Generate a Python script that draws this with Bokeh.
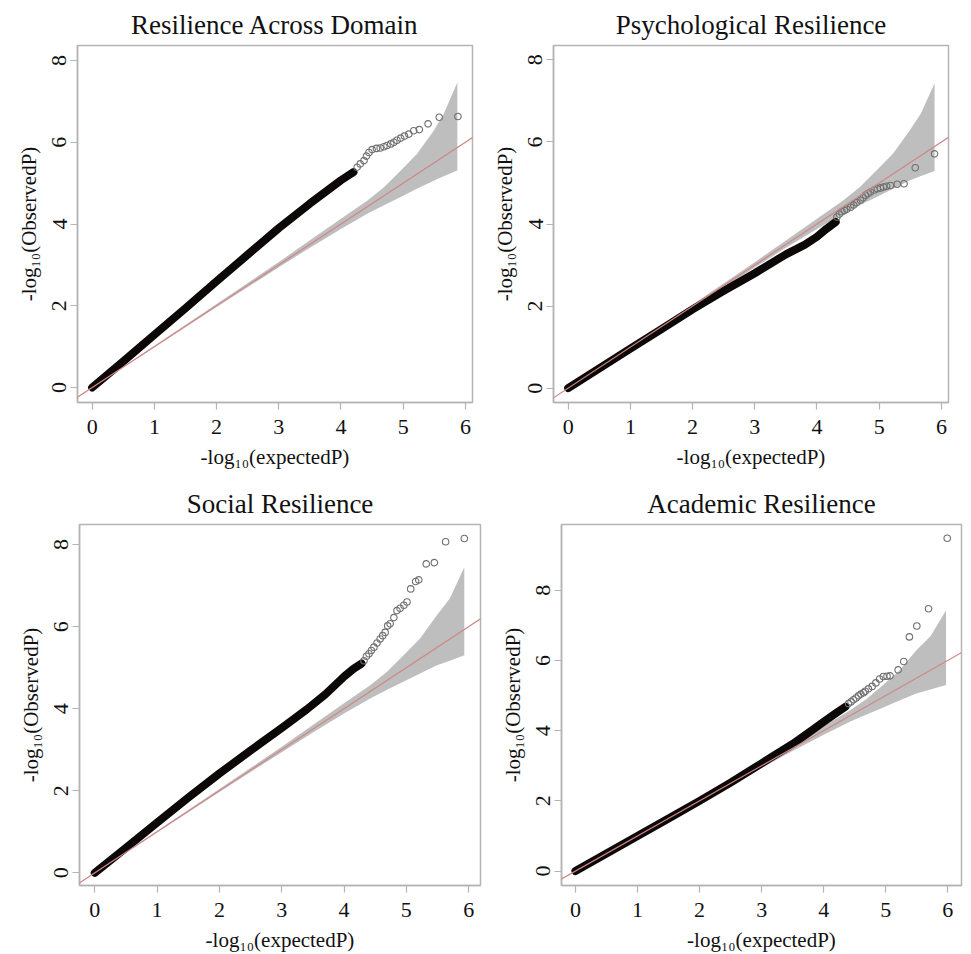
from bokeh.plotting import figure
from bokeh.layouts import column, row
from bokeh.models import FixedTicker, Slope, Range1d
from bokeh.embed import file_html
from bokeh.resources import INLINE

TITLES = ["Resilience Across Domain", "Psychological Resilience",
          "Social Resilience", "Academic Resilience"]
X_LABEL = "-log\u2081\u2080(expectedP)"
Y_LABEL = "-log\u2081\u2080(ObservedP)"
X_TICKS = [0, 1, 2, 3, 4, 5, 6]
Y_TICKS = [0, 2, 4, 6, 8]

# ---- Panel 1: Resilience Across Domain ----
dense1_x = [0, 0.5, 1, 1.5, 2, 2.5, 3, 3.5, 4, 4.2]
dense1_y = [0, 0.64, 1.29, 1.94, 2.6, 3.25, 3.9, 4.5, 5.07, 5.27]
tail1_x = [4.26, 4.31, 4.37, 4.41, 4.45, 4.5, 4.57, 4.63, 4.69, 4.74, 4.8, 4.85,
           4.9, 4.96, 5.02, 5.09, 5.17, 5.26, 5.4, 5.58, 5.88]
tail1_y = [5.39, 5.47, 5.55, 5.66, 5.75, 5.82, 5.85, 5.86, 5.89, 5.92, 5.96, 6.0,
           6.05, 6.1, 6.15, 6.2, 6.28, 6.31, 6.45, 6.61, 6.63]
band1_x = [0, 2, 3, 3.5, 4, 4.42, 4.69, 4.96, 5.22, 5.49, 5.65, 5.87]
band1_hi = [0, 2.04, 3.07, 3.6, 4.13, 4.57, 4.9, 5.31, 5.71, 6.28, 6.69, 7.46]
band1_lo = [0, 1.97, 2.94, 3.42, 3.88, 4.25, 4.46, 4.66, 4.86, 5.06, 5.17, 5.31]

# ---- Panel 2: Psychological Resilience ----
dense2_x = [0, 0.5, 1, 1.5, 2, 2.5, 3, 3.5, 3.8, 4.0, 4.15, 4.3]
dense2_y = [0, 0.48, 0.96, 1.44, 1.92, 2.37, 2.8, 3.26, 3.49, 3.69, 3.88, 4.05]
tail2_x = [4.32, 4.36, 4.4, 4.44, 4.48, 4.54, 4.59, 4.64, 4.7, 4.74, 4.78, 4.82,
           4.86, 4.92, 4.97, 5.02, 5.07, 5.12, 5.18, 5.29, 5.4, 5.58, 5.89]
tail2_y = [4.17, 4.24, 4.3, 4.33, 4.36, 4.41, 4.46, 4.52, 4.58, 4.64, 4.7, 4.74,
           4.78, 4.83, 4.86, 4.88, 4.9, 4.92, 4.94, 4.97, 4.98, 5.37, 5.71]
band2_x = [0, 2, 3, 3.5, 4, 4.42, 4.69, 4.96, 5.22, 5.49, 5.67, 5.89]
band2_hi = [0, 2.04, 3.07, 3.6, 4.13, 4.57, 4.9, 5.31, 5.71, 6.28, 6.69, 7.43]
band2_lo = [0, 1.97, 2.94, 3.42, 3.88, 4.25, 4.46, 4.66, 4.86, 5.06, 5.17, 5.29]

# ---- Panel 3: Social Resilience ----
dense3_x = [0, 0.5, 1, 1.5, 2, 2.5, 3, 3.4, 3.7, 4.0, 4.15, 4.28]
dense3_y = [0, 0.61, 1.22, 1.83, 2.42, 2.98, 3.53, 3.98, 4.35, 4.78, 4.97, 5.1]
tail3_x = [4.32, 4.36, 4.4, 4.44, 4.48, 4.53, 4.58, 4.62, 4.66, 4.7, 4.74, 4.8,
           4.85, 4.9, 4.96, 5.01, 5.07, 5.15, 5.2, 5.32, 5.45, 5.63, 5.93]
tail3_y = [5.17, 5.28, 5.34, 5.42, 5.5, 5.6, 5.7, 5.78, 5.86, 6.02, 6.07, 6.22,
           6.39, 6.45, 6.52, 6.6, 6.92, 7.1, 7.14, 7.53, 7.56, 8.07, 8.15]
band3_x = [0, 2, 3, 3.5, 4, 4.42, 4.69, 4.96, 5.22, 5.49, 5.7, 5.93]
band3_hi = [0, 2.04, 3.07, 3.6, 4.13, 4.57, 4.9, 5.31, 5.71, 6.28, 6.69, 7.45]
band3_lo = [0, 1.97, 2.94, 3.42, 3.88, 4.25, 4.46, 4.66, 4.86, 5.06, 5.17, 5.3]

# ---- Panel 4: Academic Resilience ----
dense4_x = [0, 0.5, 1, 1.5, 2, 2.5, 3, 3.5, 3.8, 4.0, 4.2, 4.35]
dense4_y = [0, 0.5, 1.0, 1.5, 2.0, 2.52, 3.07, 3.62, 4.0, 4.25, 4.5, 4.68]
tail4_x = [4.4, 4.44, 4.48, 4.52, 4.56, 4.6, 4.64, 4.67, 4.72, 4.78, 4.84, 4.9,
           4.96, 5.02, 5.07, 5.2, 5.29, 5.38, 5.5, 5.69, 5.99]
tail4_y = [4.77, 4.82, 4.88, 4.93, 4.99, 5.04, 5.08, 5.12, 5.19, 5.26, 5.36, 5.47,
           5.54, 5.55, 5.56, 5.73, 5.97, 6.67, 6.98, 7.47, 9.48]
band4_x = [0, 2, 3, 3.5, 4, 4.42, 4.69, 4.96, 5.22, 5.49, 5.72, 5.97]
band4_hi = [0, 2.04, 3.07, 3.6, 4.13, 4.57, 4.9, 5.31, 5.71, 6.28, 6.69, 7.42]
band4_lo = [0, 1.97, 2.94, 3.42, 3.88, 4.25, 4.46, 4.66, 4.86, 5.06, 5.17, 5.3]

SERIF = "Liberation Serif"
GRAY = "#b4b4b4"


def make_panel(title, xr, yr, w, h, bl, br, bt, bb, dx, dy, tx, ty, bx, blo, bhi):
    p = figure(width=w, height=h, x_range=Range1d(*xr), y_range=Range1d(*yr),
               output_backend="svg", toolbar_location=None, title=title,
               min_border_left=bl, min_border_right=br,
               min_border_top=bt, min_border_bottom=bb)
    p.grid.visible = False
    p.outline_line_color = GRAY
    p.outline_line_width = 1.5
    p.title.align = "center"
    p.title.text_font = SERIF
    p.title.text_font_size = "27px"
    p.title.text_font_style = "normal"
    p.title.text_color = "#111111"
    p.title.standoff = 12

    p.varea(x=bx, y1=blo, y2=bhi, fill_color="#bebebe")
    p.add_layout(Slope(gradient=1, y_intercept=0, line_color="#d08686",
                       line_width=1.2))
    p.line(dx, dy, line_width=8, line_color="#0c0808", line_cap="round",
           line_join="round")
    p.scatter(tx, ty, marker="circle", size=6.5, fill_color=None,
              line_color="#707070", line_width=1.1)

    for ax, ticks in ((p.xaxis[0], X_TICKS), (p.yaxis[0], Y_TICKS)):
        ax.ticker = FixedTicker(ticks=ticks)
        ax.minor_tick_line_color = None
        ax.axis_line_color = GRAY
        ax.axis_line_width = 1.5
        ax.major_tick_line_color = GRAY
        ax.major_tick_line_width = 1.2
        ax.major_tick_out = 7
        ax.major_tick_in = 0
        ax.major_label_text_font = SERIF
        ax.major_label_text_font_size = "22px"
        ax.major_label_text_color = "#111111"
        ax.axis_label_text_font = SERIF
        ax.axis_label_text_font_size = "21px"
        ax.axis_label_text_font_style = "normal"
        ax.axis_label_text_color = "#111111"
    p.xaxis.axis_label = X_LABEL
    p.yaxis.axis_label = Y_LABEL
    p.xaxis.major_label_standoff = 10
    p.xaxis.axis_label_standoff = 8
    p.yaxis.major_label_standoff = 4
    p.yaxis.axis_label_standoff = 9
    p.yaxis.major_label_orientation = "vertical"
    return p


p1 = make_panel(TITLES[0], (-0.236, 6.114), (-0.367, 8.367), 488, 479,
                77, 16, 45, 77, dense1_x, dense1_y, tail1_x, tail1_y,
                band1_x, band1_lo, band1_hi)
p2 = make_panel(TITLES[1], (-0.236, 6.114), (-0.35, 8.35), 475, 479,
                65, 15, 45, 77, dense2_x, dense2_y, tail2_x, tail2_y,
                band2_x, band2_lo, band2_hi)
p3 = make_panel(TITLES[2], (-0.245, 6.19), (-0.31, 8.49), 495, 475,
                79, 15, 45, 69, dense3_x, dense3_y, tail3_x, tail3_y,
                band3_x, band3_lo, band3_hi)
p4 = make_panel(TITLES[3], (-0.225, 6.22), (-0.41, 9.87), 468, 475,
                66, 2, 45, 69, dense4_x, dense4_y, tail4_x, tail4_y,
                band4_x, band4_lo, band4_hi)

layout = column(row(p1, p2), row(p3, p4))
open("out.html", "w").write(file_html(layout, INLINE))
